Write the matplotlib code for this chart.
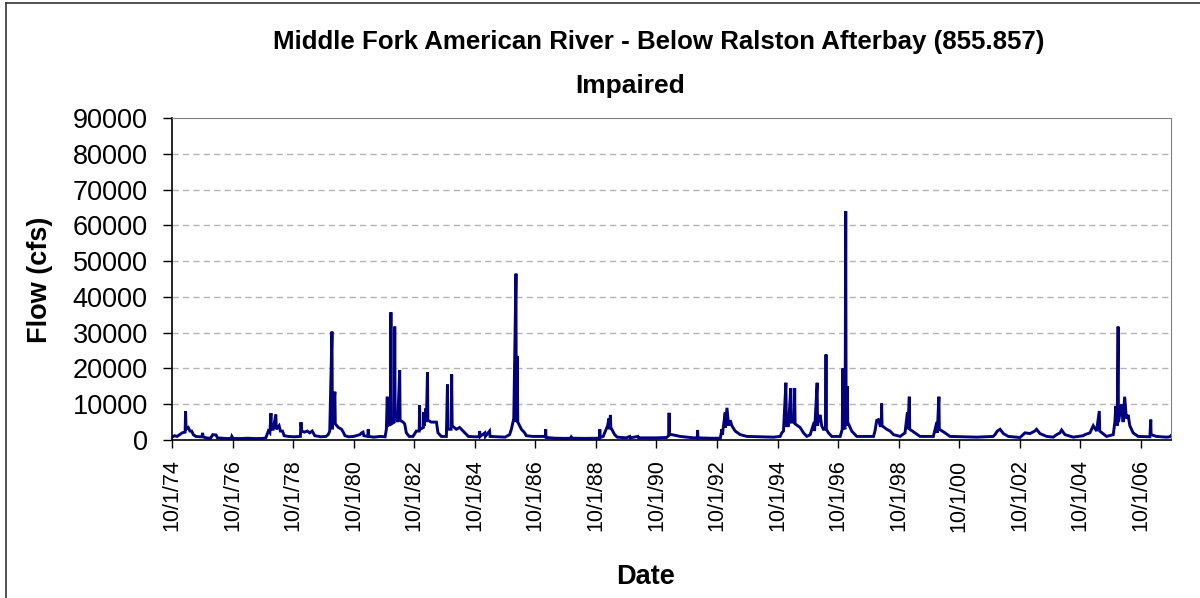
import matplotlib
matplotlib.use("Agg")
import matplotlib.pyplot as plt
from matplotlib.lines import Line2D
import pandas as pd

# daily flow (peaks + baseline shape), cfs
flow_1975_1979 = [
	("1974-10-01", 800), ("1974-11-01", 1200), ("1974-12-01", 1000), ("1975-01-01", 1500),
	("1975-02-01", 2000), ("1975-03-08", 2200), ("1975-03-14", 8000), ("1975-03-20", 3000),
	("1975-04-15", 3500), ("1975-05-05", 2500), ("1975-05-26", 2500), ("1975-06-15", 1500),
	("1975-07-15", 1000), ("1975-09-01", 900), ("1975-09-28", 900), ("1975-10-05", 2000),
	("1975-10-12", 900), ("1975-11-15", 600), ("1976-01-10", 500), ("1976-02-05", 1500),
	("1976-03-15", 1400), ("1976-04-01", 600), ("1976-06-01", 500), ("1976-08-01", 400),
	("1976-09-15", 450), ("1976-09-22", 1000), ("1976-10-05", 450), ("1977-01-01", 400),
	("1977-04-01", 500), ("1977-07-01", 400), ("1977-10-01", 450), ("1977-11-06", 600),
	("1977-12-06", 2500), ("1977-12-25", 2000), ("1978-01-07", 7500), ("1978-01-12", 3000),
	("1978-02-03", 3000), ("1978-03-07", 7200), ("1978-03-12", 3000), ("1978-04-15", 4000),
	("1978-05-01", 2500), ("1978-05-26", 2500), ("1978-06-15", 1200), ("1978-08-01", 1000),
	("1978-10-15", 900), ("1978-12-28", 1000), ("1979-01-04", 5000), ("1979-01-10", 2500),
	("1979-02-15", 2200), ("1979-03-20", 2500), ("1979-04-20", 2000), ("1979-05-20", 2500),
	("1979-06-20", 1200), ("1979-09-01", 900),
]

flow_1980_1986 = [
	("1979-11-01", 1000), ("1979-11-28", 1500), ("1979-12-17", 2500), ("1980-01-13", 30300),
	("1980-01-18", 3000), ("1980-02-17", 13500), ("1980-02-22", 4500), ("1980-03-30", 3500),
	("1980-05-08", 3000), ("1980-06-01", 2000), ("1980-06-18", 1200), ("1980-08-01", 900),
	("1980-10-01", 1000), ("1980-12-15", 1500), ("1981-01-05", 2000), ("1981-01-22", 2200),
	("1981-02-01", 1200), ("1981-03-20", 1000), ("1981-03-25", 3000), ("1981-04-01", 1000),
	("1981-06-01", 800), ("1981-08-15", 1000), ("1981-10-15", 900), ("1981-10-30", 3000),
	("1981-11-10", 12100), ("1981-11-16", 4000), ("1981-12-18", 4500), ("1981-12-24", 35700),
	("1981-12-30", 4500), ("1982-02-03", 5000), ("1982-02-08", 31700), ("1982-02-13", 7000),
	("1982-02-25", 7000), ("1982-03-16", 5000), ("1982-04-09", 19500), ("1982-04-14", 5500),
	("1982-05-20", 5000), ("1982-06-08", 4500), ("1982-06-28", 2000), ("1982-08-01", 1000),
	("1982-09-16", 1000), ("1982-10-27", 2500), ("1982-11-30", 2500), ("1982-12-05", 9700),
	("1982-12-10", 3000), ("1983-01-20", 3500), ("1983-01-25", 7800), ("1983-01-30", 4000),
	("1983-02-17", 8800), ("1983-02-25", 5000), ("1983-03-10", 18900), ("1983-03-15", 5500),
	("1983-04-26", 5000), ("1983-06-26", 5000), ("1983-07-15", 2000), ("1983-08-24", 1000),
	("1983-10-24", 1000), ("1983-11-06", 15500), ("1983-11-11", 3000), ("1983-12-20", 3000),
	("1983-12-27", 18400), ("1984-01-02", 4000), ("1984-02-21", 3000), ("1984-04-01", 3500),
	("1984-06-02", 2000), ("1984-07-15", 1000), ("1984-10-01", 900), ("1984-11-24", 900),
	("1984-11-28", 2500), ("1984-12-05", 1000), ("1985-01-31", 2000), ("1985-02-05", 1000),
	("1985-03-28", 2500), ("1985-04-03", 1000), ("1985-07-01", 900), ("1985-10-01", 800),
	("1985-11-25", 1500), ("1985-12-16", 3000), ("1986-01-14", 6000), ("1986-02-10", 46500),
	("1986-02-13", 5000), ("1986-02-24", 23500), ("1986-03-04", 5000), ("1986-04-16", 3000),
	("1986-05-26", 2000), ("1986-06-14", 1200), ("1986-09-01", 1000),
]

flow_1987_1994 = [
	("1987-01-02", 1000), ("1987-01-30", 1000), ("1987-02-03", 3000), ("1987-02-08", 700),
	("1987-06-01", 500), ("1987-10-01", 450), ("1987-12-05", 500), ("1987-12-10", 800),
	("1987-12-20", 500), ("1988-06-01", 450), ("1988-11-12", 500), ("1988-11-17", 3000),
	("1988-11-22", 700), ("1988-12-28", 1000), ("1989-02-19", 4000), ("1989-03-08", 6000),
	("1989-03-12", 3000), ("1989-03-25", 7000), ("1989-03-30", 3500), ("1989-05-15", 1500),
	("1989-06-15", 800), ("1989-10-01", 600), ("1989-11-14", 1000), ("1989-11-20", 600),
	("1990-02-20", 1000), ("1990-02-28", 600), ("1990-10-01", 600), ("1991-01-31", 700),
	("1991-02-25", 1200), ("1991-03-03", 7600), ("1991-03-08", 1500), ("1991-04-05", 1500),
	("1991-07-15", 1000), ("1991-12-25", 600), ("1992-02-06", 600), ("1992-02-10", 2800),
	("1992-02-15", 600), ("1992-07-12", 500), ("1992-11-10", 500), ("1992-11-29", 3000),
	("1992-12-05", 1500), ("1993-01-08", 7700), ("1993-01-12", 3500), ("1993-01-29", 9000),
	("1993-02-18", 4000), ("1993-03-10", 5500), ("1993-03-29", 4000), ("1993-05-08", 2500),
	("1993-07-08", 1500), ("1993-09-26", 1000), ("1994-03-07", 900), ("1994-08-14", 800),
]

flow_1995_2000 = [
	("1994-11-02", 1000), ("1994-11-22", 2000), ("1994-12-12", 2500), ("1995-01-10", 16000),
	("1995-01-16", 4000), ("1995-02-10", 4000), ("1995-03-10", 14500), ("1995-03-18", 5000),
	("1995-04-20", 5000), ("1995-04-26", 14500), ("1995-05-01", 4500), ("1995-07-01", 3500),
	("1995-08-10", 2000), ("1995-09-20", 1000), ("1995-10-30", 1500), ("1995-12-17", 5000),
	("1995-12-22", 2500), ("1996-01-22", 16000), ("1996-01-27", 4000), ("1996-02-10", 6000),
	("1996-02-27", 7000), ("1996-03-17", 4000), ("1996-04-06", 3000), ("1996-05-03", 3000),
	("1996-05-08", 23900), ("1996-05-12", 3000), ("1996-06-06", 2000), ("1996-07-17", 1000),
	("1996-10-26", 1000), ("1996-11-20", 3000), ("1996-11-28", 20000), ("1996-12-03", 4000),
	("1996-12-24", 3000), ("1997-01-01", 64000), ("1997-01-06", 4000), ("1997-01-21", 15100),
	("1997-01-25", 5000), ("1997-03-14", 2500), ("1997-05-14", 1000), ("1997-12-02", 1000),
	("1997-12-20", 2500), ("1998-01-10", 5500), ("1998-01-30", 5700), ("1998-02-20", 4000),
	("1998-03-06", 4000), ("1998-03-10", 10200), ("1998-03-15", 4000), ("1998-05-10", 3000),
	("1998-06-20", 2500), ("1998-07-31", 1500), ("1998-10-19", 1000), ("1998-12-17", 2000),
	("1999-01-15", 7800), ("1999-01-20", 3000), ("1999-02-07", 12100), ("1999-02-12", 3000),
	("1999-04-15", 2000), ("1999-06-16", 1000), ("1999-11-24", 1000), ("2000-01-05", 5000),
	("2000-01-10", 2000), ("2000-01-30", 12100), ("2000-02-04", 3000), ("2000-04-12", 2000),
	("2000-06-12", 1000),
]

flow_2001_2007 = [
	("2001-05-01", 800), ("2001-11-16", 1000), ("2001-12-06", 1500), ("2002-01-04", 2500),
	("2002-02-06", 3000), ("2002-03-18", 1800), ("2002-05-16", 1000), ("2002-10-05", 700),
	("2002-12-03", 2000), ("2003-02-02", 1800), ("2003-04-01", 2500), ("2003-04-22", 3000),
	("2003-06-02", 1800), ("2003-08-22", 1000), ("2003-11-10", 800), ("2003-12-20", 1500),
	("2004-01-30", 2000), ("2004-02-18", 2800), ("2004-03-30", 1500), ("2004-07-08", 800),
	("2004-11-06", 1200), ("2004-11-25", 1500), ("2005-01-25", 2000), ("2005-03-06", 4000),
	("2005-04-15", 2500), ("2005-05-18", 8100), ("2005-05-23", 2500), ("2005-08-14", 1000),
	("2005-11-02", 1500), ("2005-11-22", 5000), ("2005-12-03", 9500), ("2005-12-20", 4000),
	("2005-12-31", 31700), ("2006-01-04", 5000), ("2006-02-10", 10000), ("2006-03-01", 5000),
	("2006-03-20", 12100), ("2006-04-10", 6000), ("2006-05-01", 7000), ("2006-05-21", 4000),
	("2006-06-30", 2000), ("2006-08-29", 1000), ("2007-01-18", 900), ("2007-01-29", 5700),
	("2007-02-02", 1500), ("2007-04-08", 1000), ("2007-08-07", 800), ("2007-09-20", 900),
	("2007-09-30", 1200),
]

tick_years = [1974, 1976, 1978, 1980, 1982, 1984, 1986, 1988, 1990,
	1992, 1994, 1996, 1998, 2000, 2002, 2004, 2006]
y_ticks = [0, 10000, 20000, 30000, 40000, 50000, 60000, 70000, 80000, 90000]

title_1 = "Middle Fork American River - Below Ralston Afterbay (855.857)"
title_2 = "Impaired"

plt.rcParams['font.family'] = ['Liberation Sans', 'DejaVu Sans']

pts = flow_1975_1979 + flow_1980_1986 + flow_1987_1994 + flow_1995_2000 + flow_2001_2007
df = pd.DataFrame(pts, columns=["date", "cfs"])
df["date"] = pd.to_datetime(df["date"])

W, H = 1200, 598
fig = plt.figure(figsize=(W / 100, H / 100), dpi=100)
ax = fig.add_axes([172 / W, 1 - 440 / H, (1171 - 172) / W, (440 - 118) / H])

ax.plot(df["date"], df["cfs"], color="#000080", lw=2.1, solid_joinstyle="miter")

ax.set_ylim(0, 90000)
ax.set_xlim(pd.Timestamp("1974-10-01"), pd.Timestamp("2007-09-30"))
ax.set_yticks(y_ticks)
ax.set_yticklabels([str(v) for v in y_ticks])
for v in y_ticks[1:-1]:
	ax.axhline(v, color="#b4b4b4", lw=1, dashes=(4.5, 3), zorder=0)

tick_dates = [pd.Timestamp(year=y, month=10, day=1) for y in tick_years]
ax.set_xticks(tick_dates)
ax.set_xticklabels([f"{d.month}/{d.day}/{d:%y}" for d in tick_dates], rotation=90)

ax.tick_params(axis="y", direction="out", length=6.5, width=1, pad=11, labelsize=19.5)
ax.tick_params(axis="x", direction="out", length=6, width=1, pad=8, labelsize=15.5)

ax.spines["left"].set_color("black")
ax.spines["bottom"].set_color("black")
ax.spines["left"].set_linewidth(1.2)
ax.spines["bottom"].set_linewidth(1.2)
ax.spines["top"].set_color("#808080")
ax.spines["right"].set_color("#808080")

fig.text(659 / W, 1 - 49 / H, title_1, ha="center", va="baseline", fontsize=18.6, fontweight="bold")
fig.text(630 / W, 1 - 93 / H, title_2, ha="center", va="baseline", fontsize=19, fontweight="bold")
fig.text(40 / W, 1 - 280 / H, "Flow (cfs)", ha="center", va="center", rotation=90,
	fontsize=19.5, fontweight="bold")
fig.text(646 / W, 1 - 584 / H, "Date", ha="center", va="baseline", fontsize=19.5, fontweight="bold")

# chart area border (only left and top edges are inside the picture)
fig.add_artist(Line2D([6 / W, 6 / W], [0, 1 - 3 / H], color="#333333", lw=1.2))
fig.add_artist(Line2D([6 / W, 1], [1 - 3 / H, 1 - 3 / H], color="#333333", lw=1.2))

fig.savefig("out.png", dpi=100)
